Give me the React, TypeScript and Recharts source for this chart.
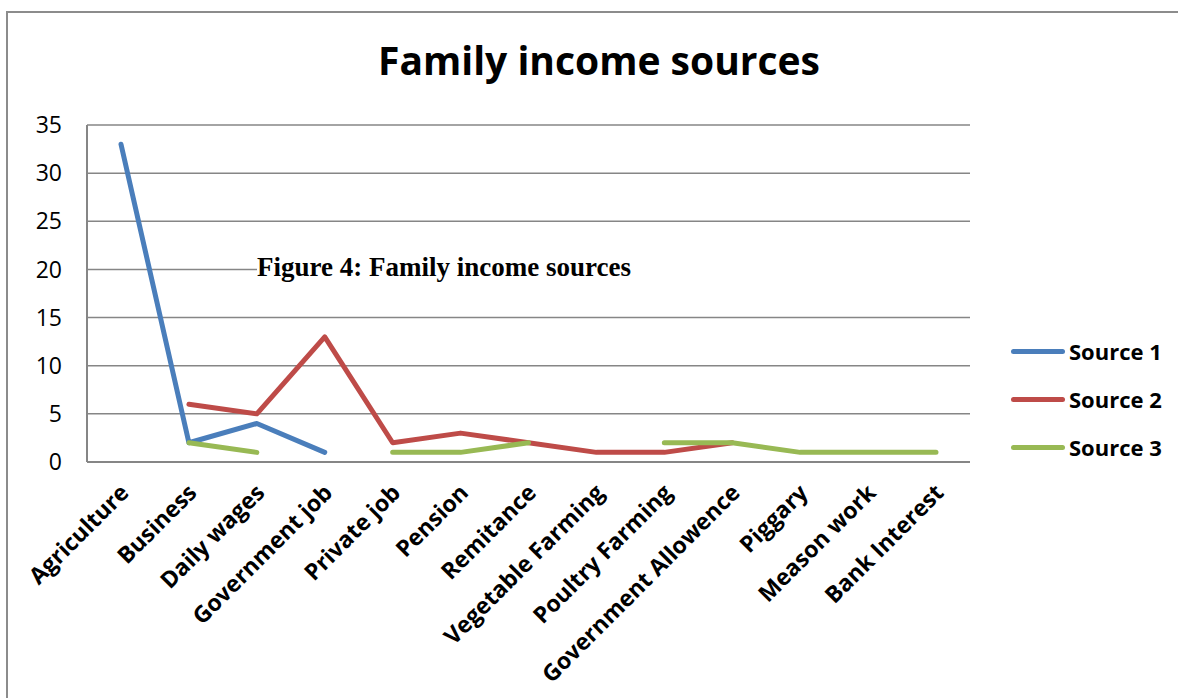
import React from "react";
import { LineChart, Line, XAxis, YAxis, CartesianGrid } from "recharts";

const categories = [
  "Agriculture",
  "Business",
  "Daily wages",
  "Government job",
  "Private job",
  "Pension",
  "Remitance",
  "Vegetable Farming",
  "Poultry Farming",
  "Government Allowence",
  "Piggary",
  "Meason work",
  "Bank Interest",
];

const source1 = [33, 2, 4, 1, null, null, null, null, null, null, null, null, null];
const source2 = [null, 6, 5, 13, 2, 3, 2, 1, 1, 2, null, null, null];
const source3 = [null, 2, 1, null, 1, 1, 2, null, 2, 2, 1, 1, 1];

const yTicks = [0, 5, 10, 15, 20, 25, 30, 35];

const seriesNames = ["Source 1", "Source 2", "Source 3"];
const COLORS = ["#4A7EBB", "#BE4B48", "#98B954"];
const GRID = "#868686";
const FONT = "'Open Sans', Lato, sans-serif";

const data = categories.map((name, i) => ({
  name,
  s1: source1[i],
  s2: source2[i],
  s3: source3[i],
}));

// rotated category labels, ending just under each point
function CategoryTick(props: any) {
  const { x, y, payload } = props;
  return (
    <g transform={`translate(${x - 5},${y + 10})`}>
      <text
        transform="rotate(-45)"
        textAnchor="end"
        dominantBaseline="hanging"
        fontFamily={FONT}
        fontWeight={700}
        fontSize={23}
        fill="#000"
      >
        {payload.value}
      </text>
    </g>
  );
}

export default function App() {
  return (
    <div style={{ position: "absolute", left: 0, top: 0, width: 1178, height: 698, background: "#fff", overflow: "hidden" }}>
      {/* outer chart frame (only top + left visible in the crop) */}
      <div
        style={{
          position: "absolute",
          left: 6,
          top: 11,
          width: 1200,
          height: 720,
          borderTop: "2px solid #8c8c8c",
          borderLeft: "2px solid #8c8c8c",
        }}
      />
      <div
        style={{
          position: "absolute",
          left: 0,
          top: 36,
          width: 1198,
          textAlign: "center",
          fontFamily: FONT,
          fontWeight: 700,
          fontSize: 39,
          lineHeight: "48px",
          color: "#000",
        }}
      >
        Family income sources
      </div>

      <div style={{ position: "absolute", left: 0, top: 0 }}>
        <LineChart width={1178} height={698} data={data} margin={{ top: 125, right: 208, left: 0, bottom: 0 }}>
          <CartesianGrid stroke={GRID} strokeWidth={1.5} vertical={false} />
          <XAxis
            dataKey="name"
            interval={0}
            height={236}
            tickLine={false}
            axisLine={{ stroke: GRID, strokeWidth: 2 }}
            tick={<CategoryTick />}
            padding={{ left: 34, right: 34 }}
          />
          <YAxis
            width={87}
            domain={[0, 35]}
            ticks={yTicks}
            interval={0}
            tickLine={false}
            tickSize={0}
            tickMargin={25}
            axisLine={{ stroke: GRID, strokeWidth: 2 }}
            tick={{ fontFamily: FONT, fontSize: 23, fill: "#000" }}
          />
          <Line dataKey="s1" name={seriesNames[0]} stroke={COLORS[0]} strokeWidth={5} strokeLinecap="round" strokeLinejoin="round" dot={false} isAnimationActive={false} />
          <Line dataKey="s2" name={seriesNames[1]} stroke={COLORS[1]} strokeWidth={5} strokeLinecap="round" strokeLinejoin="round" dot={false} isAnimationActive={false} />
          <Line dataKey="s3" name={seriesNames[2]} stroke={COLORS[2]} strokeWidth={5} strokeLinecap="round" strokeLinejoin="round" dot={false} isAnimationActive={false} />
        </LineChart>
      </div>

      {/* caption box sitting over the 20 gridline */}
      <div
        style={{
          position: "absolute",
          left: 257,
          top: 252,
          width: 718,
          height: 30,
          background: "#fff",
          fontFamily: "'Liberation Serif', 'Times New Roman', serif",
          fontWeight: 700,
          fontSize: 27,
          lineHeight: "30px",
          color: "#000",
          whiteSpace: "nowrap",
        }}
      >
        Figure 4: Family income sources
      </div>

      {/* legend */}
      <div style={{ position: "absolute", left: 1011, top: 327 }}>
        {seriesNames.map((n, i) => (
          <div key={n} style={{ display: "flex", alignItems: "center", height: 48 }}>
            <div style={{ width: 54, height: 5, borderRadius: 3, background: COLORS[i], marginRight: 4 }} />
            <span style={{ fontFamily: FONT, fontWeight: 700, fontSize: 22, color: "#000" }}>{n}</span>
          </div>
        ))}
      </div>
    </div>
  );
}
